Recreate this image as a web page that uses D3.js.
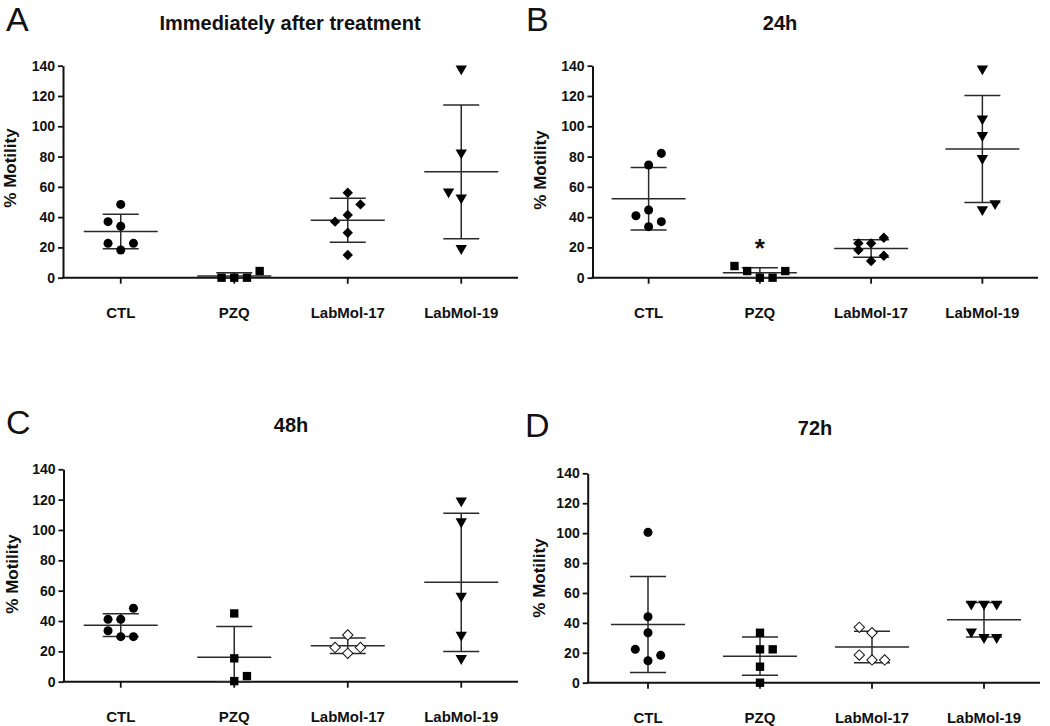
<!DOCTYPE html>
<html><head><meta charset="utf-8">
<script src="https://cdn.jsdelivr.net/npm/d3@7"></script>
<style>
body{margin:0;background:#fff}
svg{display:block}
text{font-family:"Liberation Sans",Arial,Helvetica,sans-serif;fill:#111}
</style>
</head><body>
<svg id="c" width="1050" height="726"></svg>
<script>
// ---------------- data ----------------
const categories = ["CTL", "PZQ", "LabMol-17", "LabMol-19"];
const panelLetters = ["A", "B", "C", "D"];
const panelTitles = ["Immediately after treatment", "24h", "48h", "72h"];
const yTicks = [0, 20, 40, 60, 80, 100, 120, 140];
const yLabel = "% Motility";

// % motility per group (one array per category)
const valuesA = [
  [48.4, 37, 34, 22.7, 22.7, 18.3],
  [0, 0, 0, 4.4],
  [56.1, 48.4, 41.4, 37, 29.7, 15],
  [138, 82.5, 56.8, 52.8, 19.4]
];
const valuesB = [
  [82.1, 74.4, 44.7, 40.9, 37, 33.7],
  [7.7, 4.4, 0, 0, 4.4],
  [22.7, 22.7, 26.4, 18.3, 14.5, 11],
  [138, 105, 94, 78.8, 45, 49]
];
const valuesC = [
  [48.4, 41.1, 41.1, 33.6, 29.7, 29.7],
  [45, 15.4, 0.4, 3.7],
  [30.8, 22.6, 22.6, 18.7],
  [119.3, 105.5, 56.5, 30.8, 15.4]
];
const valuesD = [
  [100.5, 44.1, 33.4, 22.3, 18.3, 14.7],
  [33.4, 22.3, 22.3, 10.7, 0],
  [37, 33.4, 18.5, 15.2, 15.2],
  [52.6, 52.6, 52.6, 34.1, 30.3, 30.3]
];
// horizontal scatter column of each point (-2..2), as in the figure
const slotsA = [[0, -1, 0, -1, 1, 0], [-1, 0, 1, 2], [0, 1, 0, -1, 0, 0], [0, 0, -1, 0, 0]];
const slotsB = [[1, 0, 0, -1, 1, 0], [-2, -1, 0, 1, 2], [-1, 0, 1, -1, 1, 0], [0, 0, 0, 0, 0, 1]];
const slotsC = [[1, -1, 0, -1, 0, 1], [0, 0, 0, 1], [0, -1, 1, 0], [0, 0, 0, 0, 0]];
const slotsD = [[0, 0, 0, -1, 1, 0], [0, 0, 1, 0, 0], [-1, 0, -1, 0, 1], [-1, 0, 1, -1, 0, 1]];
// LabMol-17 drawn with open diamonds in C and D
const openDiamondPanels = ["C", "D"];
// significance marks
const annotPanel = ["B"];
const annotCategory = ["PZQ"];
const annotValue = [23];
const annotText = ["*"];

const panelValues = [valuesA, valuesB, valuesC, valuesD];
const panelSlots = [slotsA, slotsB, slotsC, slotsD];

// ---------------- layout ----------------
const layout = [
  {axisX: 63,    xRange: [64, 518],   xEnd: 518,  yRange: [277.7, 65.7], letter: [6, 31],    title: [290, 30],  ylab: [10, 168]},
  {axisX: 592.5, xRange: [593, 1038], xEnd: 1038, yRange: [277.7, 65.7], letter: [526, 31],  title: [780, 30],  ylab: [540, 170]},
  {axisX: 63.5,  xRange: [64, 518],   xEnd: 518,  yRange: [681.7, 469.3], letter: [6, 434],  title: [291, 432], ylab: [12, 574]},
  {axisX: 587.7, xRange: [592, 1040], xEnd: 1040, yRange: [682.7, 473.3], letter: [525, 437], title: [815, 435], ylab: [539, 578]}
];

const svg = d3.select("#c");
const markerType = [d3.symbolCircle, d3.symbolSquare, d3.symbolSquare, d3.symbolTriangle];
const markerSize = [64, 70, 54, 56];
const markerRot = [0, 0, 45, 180];

panelLetters.forEach((pid, i) => {
  const L = layout[i];
  const g = svg.append("g");
  const y = d3.scaleLinear().domain([0, 140]).range(L.yRange);
  const x = d3.scaleBand().domain(categories).range(L.xRange);
  const jit = d3.scaleLinear().domain([-1, 1]).range([-12.7, 12.7]);

  // panel letter
  g.append("text").attr("x", L.letter[0]).attr("y", L.letter[1])
    .attr("font-size", 34).text(pid);
  // title
  g.append("text").attr("x", L.title[0]).attr("y", L.title[1])
    .attr("text-anchor", "middle").attr("font-size", 20).attr("font-weight", "bold")
    .text(panelTitles[i]);
  // y label
  g.append("text")
    .attr("transform", `translate(${L.ylab[0]},${L.ylab[1]}) rotate(-90)`)
    .attr("text-anchor", "middle").attr("dy", "0.35em")
    .attr("font-size", 17).attr("font-weight", "bold").text(yLabel);

  // y axis
  const ya = g.append("g").attr("transform", `translate(${L.axisX},0)`)
    .call(d3.axisLeft(y).tickValues(yTicks).tickSize(5).tickPadding(3).tickSizeOuter(0));
  ya.select(".domain").attr("stroke", "#111").attr("stroke-width", 2);
  ya.selectAll(".tick line").attr("stroke", "#111").attr("stroke-width", 1.8);
  ya.selectAll(".tick text").attr("font-size", 14).attr("font-weight", "bold")
    .attr("font-family", null).attr("fill", "#111");

  // x axis
  const xa = g.append("g").attr("transform", `translate(0,${L.yRange[0]})`)
    .call(d3.axisBottom(x).tickSize(6).tickPadding(24).tickSizeOuter(0));
  xa.select(".domain").remove();
  xa.selectAll(".tick line").attr("stroke", "#111").attr("stroke-width", 1.8);
  xa.selectAll(".tick text").attr("font-size", 15).attr("font-weight", "bold")
    .attr("font-family", null).attr("fill", "#111");
  g.append("line").attr("x1", L.axisX - 1).attr("x2", L.xEnd)
    .attr("y1", L.yRange[0]).attr("y2", L.yRange[0])
    .attr("stroke", "#111").attr("stroke-width", 2);

  // groups
  categories.forEach((cat, j) => {
    const vals = panelValues[i][j];
    const slots = panelSlots[i][j];
    const cx = x(cat) + x.bandwidth() / 2;
    const m = d3.mean(vals), sd = d3.deviation(vals);
    const top = m + sd, bot = Math.max(0, m - sd);
    const eb = g.append("g").attr("stroke", "#2a2a2a").attr("stroke-width", 1.5);
    eb.append("line").attr("x1", cx - 37).attr("x2", cx + 37).attr("y1", y(m)).attr("y2", y(m));
    eb.append("line").attr("x1", cx).attr("x2", cx).attr("y1", y(bot)).attr("y2", y(top));
    eb.append("line").attr("x1", cx - 18).attr("x2", cx + 18).attr("y1", y(top)).attr("y2", y(top));
    eb.append("line").attr("x1", cx - 18).attr("x2", cx + 18).attr("y1", y(bot)).attr("y2", y(bot));

    const open = (j === 2 && openDiamondPanels.includes(pid));
    const sym = d3.symbol().type(markerType[j]).size(markerSize[j])();
    g.append("g").selectAll("path").data(vals).join("path")
      .attr("d", sym)
      .attr("transform", (v, k) => `translate(${cx + jit(slots[k])},${y(v)}) rotate(${markerRot[j]})`)
      .attr("fill", open ? "#fff" : "#000")
      .attr("stroke", open ? "#111" : "none")
      .attr("stroke-width", open ? 1 : 0);
  });

  // annotations
  annotPanel.forEach((ap, k) => {
    if (ap !== pid) return;
    const cx = x(annotCategory[k]) + x.bandwidth() / 2;
    g.append("text").attr("x", cx).attr("y", y(annotValue[k]) + 14)
      .attr("text-anchor", "middle").attr("font-size", 26).attr("font-weight", "bold")
      .text(annotText[k]);
  });
});
</script>
</body></html>
